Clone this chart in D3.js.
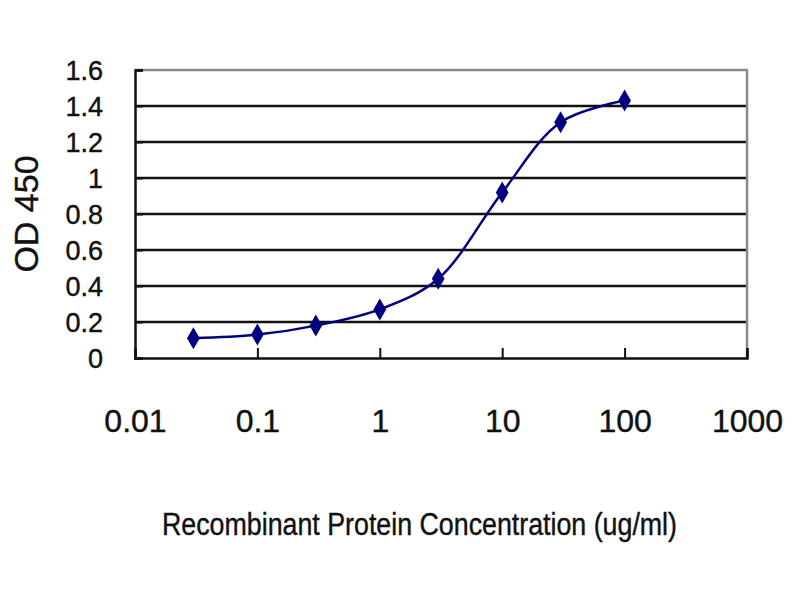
<!DOCTYPE html>
<html>
<head>
    <meta charset="utf-8">
    <title>OD 450</title>
    <script src="https://d3js.org/d3.v7.min.js"></script>
    <style>
        body { margin: 0; background: #fff; }
        text { font-family: "Liberation Sans Narrow", "Liberation Sans", Arial, sans-serif; fill: #111; stroke: #111; stroke-width: 0.4px; }
        .grid line { stroke: #111; stroke-width: 2.5; }
        .curve { fill: none; stroke: #000080; stroke-width: 2.5; }
        .dot { fill: #000080; }
    </style>
</head>
<body>
<div id="vis"></div>
<script>

    // concentrations (ug/ml) and measured OD 450
    var conc = [0.03, 0.1, 0.3, 1, 3, 10, 30, 100];
    var od = [0.11, 0.13, 0.18, 0.27, 0.44, 0.92, 1.31, 1.43];

    var xTicks = [0.01, 0.1, 1, 10, 100, 1000];
    var xTickLabels = ["0.01", "0.1", "1", "10", "100", "1000"];
    var yTicks = [0, 0.2, 0.4, 0.6, 0.8, 1, 1.2, 1.4, 1.6];
    var yTickLabels = ["0", "0.2", "0.4", "0.6", "0.8", "1", "1.2", "1.4", "1.6"];

    var margin = {top: 70, right: 53, bottom: 242, left: 135},
        width = 800 - margin.left - margin.right,
        height = 600 - margin.top - margin.bottom;

    var svg = d3.select("#vis").append("svg")
        .attr("width", 800)
        .attr("height", 600)
        .append("g")
        .attr("transform", "translate(" + margin.left + "," + margin.top + ")");

    var x = d3.scaleLog().domain([0.01, 1000]).range([0, width]);
    var y = d3.scaleLinear().domain([0, 1.6]).range([height, 0]);

    // horizontal grid lines (the top one is the grey frame)
    svg.append("g").attr("class", "grid")
        .selectAll("line").data(yTicks.slice(1, -1))
        .enter().append("line")
        .attr("x1", 0).attr("x2", width)
        .attr("y1", function(d){ return y(d); })
        .attr("y2", function(d){ return y(d); });

    // grey frame top and right
    svg.append("path")
        .attr("d", "M0," + y(1.6) + "H" + width + "V" + height)
        .attr("fill", "none")
        .attr("stroke", "#888")
        .attr("stroke-width", 2.5);

    // axes
    var yAxis = d3.axisLeft(y).tickValues(yTicks).tickSize(-8)
        .tickFormat(function(d, i){ return yTickLabels[i]; });
    var gy = svg.append("g").call(yAxis);
    gy.select(".domain").attr("stroke", "#111").attr("stroke-width", 2.5);
    gy.selectAll(".tick line").attr("stroke", "#111").attr("stroke-width", 2);
    gy.selectAll(".tick text")
        .attr("x", -32)
        .attr("dy", "0.36em")
        .style("font-size", "27px");

    var xAxis = d3.axisBottom(x).tickValues(xTicks).tickSize(-10)
        .tickFormat(function(d, i){ return xTickLabels[i]; });
    var gx = svg.append("g")
        .attr("transform", "translate(0," + height + ")")
        .call(xAxis);
    gx.select(".domain").attr("stroke", "#111").attr("stroke-width", 2.5);
    gx.selectAll(".tick line").attr("stroke", "#111").attr("stroke-width", 2);
    gx.selectAll(".tick text")
        .attr("y", 74)
        .attr("dy", 0)
        .style("font-size", "32px");

    // smoothed curve + diamond markers
    var line = d3.line()
        .x(function(d, i){ return x(conc[i]); })
        .y(function(d){ return y(d); })
        .curve(d3.curveCatmullRom);

    svg.append("path")
        .datum(od)
        .attr("class", "curve")
        .attr("d", line);

    svg.selectAll(".dot").data(od)
        .enter().append("path")
        .attr("class", "dot")
        .attr("d", d3.symbol().type(d3.symbolDiamond).size(140))
        .attr("transform", function(d, i){ return "translate(" + x(conc[i]) + "," + y(d) + ")"; });

    // axis titles
    svg.append("text")
        .attr("transform", "translate(" + (-97) + "," + (height / 2) + ") rotate(-90)")
        .attr("text-anchor", "middle")
        .style("font-size", "34px")
        .text("OD 450");

    svg.append("text")
        .attr("x", 27)
        .attr("y", height + 177)
        .attr("textLength", 515)
        .attr("lengthAdjust", "spacingAndGlyphs")
        .style("font-size", "31px")
        .text("Recombinant Protein Concentration (ug/ml)");

</script>
</body>
</html>
